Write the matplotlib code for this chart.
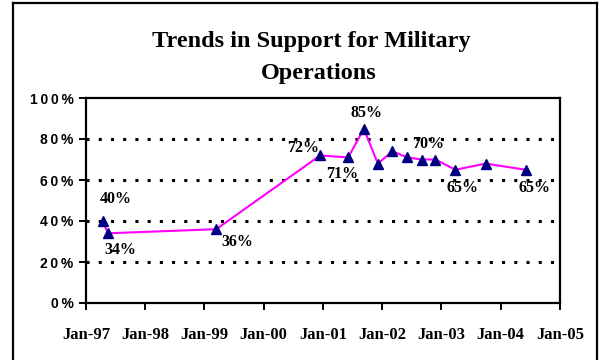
import matplotlib
matplotlib.use("Agg")
import matplotlib.pyplot as plt
from matplotlib.lines import Line2D
import datetime as dt

# Survey dates and share supporting military operations (%)
survey_dates = ["1997-04-15", "1997-05-15", "1999-03-15", "2000-12-15",
                "2001-06-05", "2001-09-10", "2001-12-05", "2002-03-05",
                "2002-06-05", "2002-09-01", "2002-11-25", "2003-03-28",
                "2003-10-01", "2004-06-03"]
support = [40, 34, 36, 72, 71, 85, 68, 74, 71, 70, 70, 65, 68, 65]

# Which points carry a value label, and where the label sits (pixel offsets)
label_index = [0, 1, 2, 3, 4, 5, 9, 11, 13]
label_offset = [(13, 22), (13, -17), (21, -13), (-17, 7), (-6, -17),
                (3, 16), (6, 16), (7, -18), (9, -18)]

year_ticks = list(range(1997, 2006))
year_labels = ["Jan-%02d" % (y % 100) for y in year_ticks]
pct_ticks = [0, 20, 40, 60, 80, 100]
pct_labels = ["0\u2009%", "2\u20090\u2009%", "4\u20090\u2009%", "6\u20090\u2009%",
              "8\u20090\u2009%", "1\u20090\u20090\u2009%"]

W, H = 601, 360
fig = plt.figure(figsize=(W / 100, H / 100), dpi=100)
fig.patch.set_facecolor("white")

# Outer frame (open at the bottom)
px = lambda x: x / W
py = lambda y: 1 - y / H
for xs, ys in [((13, 13), (3, 362)), ((13, 597), (3, 3)), ((597, 597), (3, 362))]:
    fig.add_artist(Line2D([px(v) for v in xs], [py(v) for v in ys],
                          color="black", lw=1.6, solid_capstyle="projecting"))

ax = fig.add_axes([px(86), py(303), px(560) - px(86), py(98) - py(303)])

dates = [dt.datetime.strptime(d, "%Y-%m-%d") for d in survey_dates]
ax.plot(dates, support, color="#FF00FF", lw=1.5, zorder=3)
ax.plot(dates, support, linestyle="none", marker="^", ms=7.5,
        color="#000080", markeredgecolor="#000080", zorder=4)

serif = "Liberation Serif"
sans = "Liberation Sans"
for i, (dx, dy) in zip(label_index, label_offset):
    ax.annotate("%d%%" % support[i], (dates[i], support[i]),
                xytext=(dx, dy), textcoords="offset pixels",
                ha="center", va="center", fontsize=11.5, fontweight="bold",
                family=serif, color="black", zorder=5)

ax.set_xlim(dt.datetime(1997, 1, 1), dt.datetime(2005, 1, 1))
ax.set_ylim(0, 100)
ax.set_xticks([dt.datetime(y, 1, 1) for y in year_ticks])
ax.set_xticklabels(year_labels, family=serif, fontweight="bold", fontsize=12)
ax.set_yticks(pct_ticks)
ax.set_yticklabels(pct_labels, family=sans, fontweight="bold", fontsize=10)

for g in pct_ticks[1:-1]:
    ax.axhline(g, color="black", lw=2.2, linestyle=(0, (1, 3)), zorder=1)

for s in ax.spines.values():
    s.set_linewidth(1.6)
    s.set_color("black")
ax.tick_params(axis="both", direction="out", length=5, width=1.4, color="black")
ax.tick_params(axis="x", pad=12)
ax.tick_params(axis="y", pad=4)

fig.text(px(311), py(42), "Trends in Support for Military", ha="center", va="center",
         family=serif, fontweight="bold", fontsize=17.5)
fig.text(px(319), py(73), "Operations", ha="center", va="center",
         family=serif, fontweight="bold", fontsize=17.5)

fig.savefig("out.png", dpi=100, facecolor="white")
